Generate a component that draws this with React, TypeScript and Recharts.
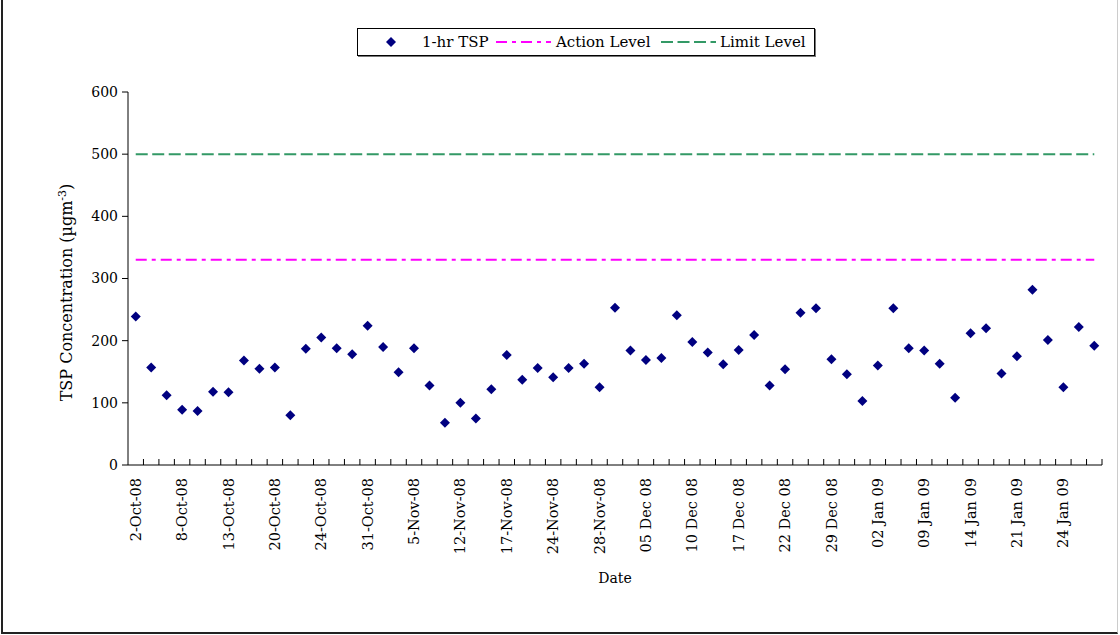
import React from 'react';
import { ComposedChart, Line, XAxis, YAxis, Legend } from 'recharts';

// tick labels shown on every third day of the monitoring record
const dateLabels = [
  '2-Oct-08', '8-Oct-08', '13-Oct-08', '20-Oct-08', '24-Oct-08', '31-Oct-08', '5-Nov-08',
  '12-Nov-08', '17-Nov-08', '24-Nov-08', '28-Nov-08', '05 Dec 08', '10 Dec 08', '17 Dec 08',
  '22 Dec 08', '29 Dec 08', '02 Jan 09', '09 Jan 09', '14 Jan 09', '21 Jan 09', '24 Jan 09',
];

// 1-hr TSP results (µg/m3)
const tsp = [
  239, 157, 112, 89, 87, 118, 117, 168, 155, 157,
  80, 187, 205, 188, 178, 224, 190, 149, 188, 128,
  68, 100, 75, 122, 177, 137, 156, 141, 156, 163,
  125, 253, 184, 169, 172, 241, 198, 181, 162, 185,
  209, 128, 154, 245, 252, 170, 146, 103, 160, 252,
  188, 184, 163, 108, 212, 220, 147, 175, 282, 201,
  125, 222, 192,
];

const actionLevel = 330;
const limitLevel = 500;
const yTicks = [0, 100, 200, 300, 400, 500, 600];

const FONT = '"DejaVu Serif", serif';
const NAVY = '#000080';
const MAGENTA = '#FF00FF';
const GREEN = '#339966';

const data = tsp.map((v, i) => ({
  idx: i,
  label: i % 3 === 0 ? dateLabels[i / 3] : '',
  tsp: v,
  action: actionLevel,
  limit: limitLevel,
}));

const diamond = (cx: number, cy: number, r: number) =>
  `M${cx},${cy - r}L${cx + r},${cy}L${cx},${cy + r}L${cx - r},${cy}Z`;

const renderDot = (p: any) => {
  if (p.cx == null || p.cy == null) return <g key={p.index} />;
  return <path key={p.index} d={diamond(p.cx, p.cy, 5)} fill={NAVY} />;
};

// ticks sit on the category borders, labels on the category centre
const DateTick = ({ x, y, payload }: any) => {
  const half = payload.offset ?? 0;
  const label = data[payload.value]?.label;
  const ly = y + 13;
  return (
    <g>
      <line x1={x + half} x2={x + half} y1={y} y2={y - 6} stroke="#000" />
      {label ? (
        <text
          x={x}
          y={ly}
          dy="0.35em"
          transform={`rotate(-90, ${x}, ${ly})`}
          textAnchor="end"
          fontFamily={FONT}
          fontSize={14.5}
          fill="#000"
        >
          {label}
        </text>
      ) : null}
    </g>
  );
};

const LegendBox = () => (
  <div style={{ width: 458, height: 28, boxSizing: 'border-box', border: '1px solid #000', boxShadow: '1px 1px 0 #777', background: '#fff' }}>
    <svg width={456} height={26} style={{ display: 'block' }}>
      <path d={diamond(33, 13, 5)} fill={NAVY} />
      <text x={64} y={18} fontFamily={FONT} fontSize={15} fill="#000">1-hr TSP</text>
      <line x1={138} x2={193} y1={13} y2={13} stroke={MAGENTA} strokeWidth={2} strokeDasharray="11 5 4 5" />
      <text x={198} y={18} fontFamily={FONT} fontSize={15} fill="#000">Action Level</text>
      <line x1={303} x2={358} y1={13} y2={13} stroke={GREEN} strokeWidth={2} strokeDasharray="12 4.5" />
      <text x={362} y={18} fontFamily={FONT} fontSize={15} fill="#000">Limit Level</text>
    </svg>
  </div>
);

export default function App() {
  return (
    <div style={{ position: 'absolute', left: 0, top: 0, width: 1120, height: 635, background: '#fff', overflow: 'hidden' }}>
      <div
        style={{
          position: 'absolute', left: 1, top: -10, width: 1117, height: 644, boxSizing: 'border-box',
          borderLeft: '2px solid #222', borderBottom: '2px solid #222', borderRight: '1px solid #ccc',
        }}
      />
      <div style={{ position: 'absolute', left: 0, top: 0 }}>
        <ComposedChart width={1120} height={635} data={data} margin={{ top: 92, right: 18, bottom: 0, left: 0 }}>
          <XAxis
            dataKey="idx"
            type="category"
            scale="band"
            interval={0}
            height={170}
            tickSize={0}
            tickMargin={0}
            tickLine={false}
            axisLine={{ stroke: '#000' }}
            tick={<DateTick />}
            label={{
              content: (props: any) => {
                const vb = props.viewBox;
                return (
                  <text x={vb.x + vb.width / 2} y={583} textAnchor="middle" fontFamily={FONT} fontSize={14} fill="#000">
                    Date
                  </text>
                );
              },
            }}
          />
          <YAxis
            type="number"
            domain={[0, 600]}
            ticks={yTicks}
            width={128}
            tickSize={6}
            tickMargin={4}
            axisLine={{ stroke: '#000' }}
            tickLine={{ stroke: '#000' }}
            tick={{ fontFamily: FONT, fontSize: 14, fill: '#000' }}
            label={{
              content: (props: any) => {
                const vb = props.viewBox;
                const cx = vb.x + 72;
                const cy = vb.y + vb.height / 2 + 14;
                return (
                  <text x={cx} y={cy} transform={`rotate(-90, ${cx}, ${cy})`} textAnchor="middle" fontFamily={FONT} fontSize={16} fill="#000">
                    TSP Concentration (µgm
                    <tspan dy={-6} fontSize={11}>-3</tspan>
                    <tspan dy={6}>)</tspan>
                  </text>
                );
              },
            }}
          />
          <Legend
            layout="horizontal"
            verticalAlign="middle"
            align="center"
            wrapperStyle={{ top: 28, left: 357, width: 458 }}
            content={() => <LegendBox />}
          />
          <Line dataKey="limit" stroke={GREEN} strokeWidth={2} strokeDasharray="12 4.5" dot={false} activeDot={false} isAnimationActive={false} />
          <Line dataKey="action" stroke={MAGENTA} strokeWidth={2} strokeDasharray="11 5 4 5" dot={false} activeDot={false} isAnimationActive={false} />
          <Line dataKey="tsp" stroke="none" dot={renderDot} activeDot={false} isAnimationActive={false} />
        </ComposedChart>
      </div>
    </div>
  );
}
